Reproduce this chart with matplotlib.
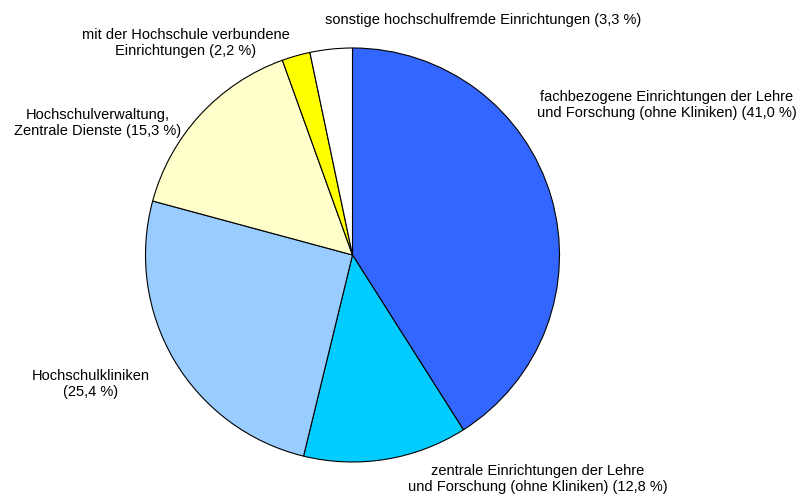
import matplotlib
matplotlib.use("Agg")
import matplotlib.pyplot as plt

# shares in percent, clockwise from 12 o'clock
labels = [
    "fachbezogene Einrichtungen der Lehre\nund Forschung (ohne Kliniken) (41,0 %)",
    "zentrale Einrichtungen der Lehre\nund Forschung (ohne Kliniken) (12,8 %)",
    "Hochschulkliniken\n(25,4 %)",
    "Hochschulverwaltung,\nZentrale Dienste (15,3 %)",
    "mit der Hochschule verbundene\nEinrichtungen (2,2 %)",
    "sonstige hochschulfremde Einrichtungen (3,3 %)",
]
shares = [41.0, 12.8, 25.4, 15.3, 2.2, 3.3]
colors = ["#3366FF", "#00CCFF", "#99CCFF", "#FFFFCC", "#FFFF00", "#FFFFFF"]

# label anchor points in pixel coords (x, y from top)
label_pos = [(667, 105), (538, 479), (91, 384), (98, 123), (186, 43), (483, 20)]

plt.rcParams["font.family"] = ["Liberation Sans", "DejaVu Sans"]

W, H = 799, 500
fig = plt.figure(figsize=(W / 100, H / 100), dpi=100)
ax = fig.add_axes([0, 0, 1, 1])

ax.pie(
    shares,
    colors=colors,
    startangle=90,
    counterclock=False,
    center=(352.5, H - 255),
    radius=207,
    wedgeprops={"edgecolor": "black", "linewidth": 0.8},
    frame=True,
)
ax.set_xlim(0, W)
ax.set_ylim(0, H)
ax.set_aspect("equal")
ax.axis("off")

for text, (x, y) in zip(labels, label_pos):
    ax.text(x, H - y, text, ha="center", va="center", fontsize=10.5,
            linespacing=1.25, color="black")

fig.savefig("out.png", dpi=100, facecolor="white")
